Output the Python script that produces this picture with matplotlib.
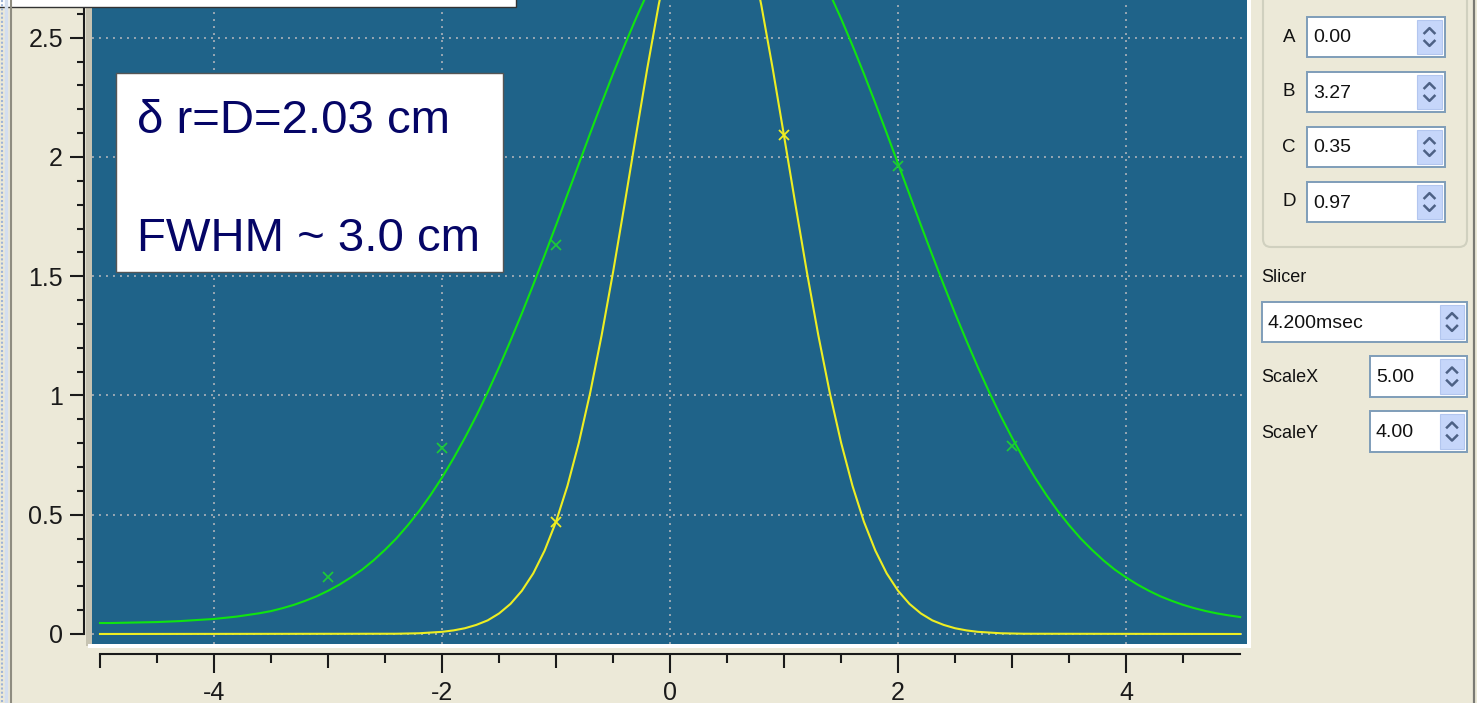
import matplotlib
matplotlib.use('Agg')
import matplotlib.pyplot as plt
from matplotlib.ticker import MultipleLocator, FixedLocator, FuncFormatter
from matplotlib.patches import Rectangle, FancyBboxPatch

plt.rcParams['font.family'] = ['Liberation Sans', 'DejaVu Sans']
plt.rcParams['axes.unicode_minus'] = False

W, H = 1477, 703

# green fitted profile, every 0.1 cm
green_fit_x = [-5.0, -4.9, -4.8, -4.7, -4.6, -4.5, -4.4, -4.3, -4.2, -4.1,
               -4.0, -3.9, -3.8, -3.7, -3.6, -3.5, -3.4, -3.3, -3.2, -3.1,
               -3.0, -2.9, -2.8, -2.7, -2.6, -2.5, -2.4, -2.3, -2.2, -2.1,
               -2.0, -1.9, -1.8, -1.7, -1.6, -1.5, -1.4, -1.3, -1.2, -1.1,
               -1.0, -0.9, -0.8, -0.7, -0.6, -0.5, -0.4, -0.3, -0.2, -0.1,
               0.0, 0.1, 0.2, 0.3, 0.4, 0.5, 0.6, 0.7, 0.8, 0.9,
               1.0, 1.1, 1.2, 1.3, 1.4, 1.5, 1.6, 1.7, 1.8, 1.9,
               2.0, 2.1, 2.2, 2.3, 2.4, 2.5, 2.6, 2.7, 2.8, 2.9,
               3.0, 3.1, 3.2, 3.3, 3.4, 3.5, 3.6, 3.7, 3.8, 3.9,
               4.0, 4.1, 4.2, 4.3, 4.4, 4.5, 4.6, 4.7, 4.8, 4.9, 5.0]
green_fit_y = [0.046, 0.046, 0.047, 0.048, 0.049, 0.050, 0.052, 0.054, 0.057, 0.060,
               0.063, 0.068, 0.073, 0.080, 0.087, 0.096, 0.108, 0.122, 0.139, 0.158,
               0.181, 0.207, 0.237, 0.270, 0.309, 0.353, 0.401, 0.456, 0.516, 0.583,
               0.656, 0.736, 0.822, 0.914, 1.013, 1.118, 1.229, 1.344, 1.464, 1.588,
               1.714, 1.843, 1.971, 2.100, 2.226, 2.349, 2.467, 2.580, 2.686, 2.781,
               2.867, 2.942, 3.005, 3.055, 3.091, 3.113, 3.120, 3.113, 3.091, 3.055,
               3.005, 2.942, 2.867, 2.781, 2.686, 2.580, 2.467, 2.349, 2.226, 2.100,
               1.971, 1.843, 1.714, 1.588, 1.464, 1.344, 1.229, 1.118, 1.013, 0.914,
               0.822, 0.736, 0.656, 0.583, 0.516, 0.456, 0.401, 0.353, 0.309, 0.270,
               0.237, 0.207, 0.181, 0.158, 0.139, 0.122, 0.108, 0.096, 0.086, 0.078, 0.071]

# yellow fitted profile (A=0.00, B=3.27, C=0.35, D=0.97)
yellow_fit_x = [-5.0, -2.4, -2.3, -2.2, -2.1, -2.0, -1.9, -1.8, -1.7, -1.6,
                -1.5, -1.4, -1.3, -1.2, -1.1, -1.0, -0.9, -0.8, -0.7, -0.6,
                -0.5, -0.4, -0.3, -0.2, -0.1, 0.0, 0.1, 0.2, 0.3, 0.4,
                0.5, 0.6, 0.7, 0.8, 0.9, 1.0, 1.1, 1.2, 1.3, 1.4,
                1.5, 1.6, 1.7, 1.8, 1.9, 2.0, 2.1, 2.2, 2.3, 2.4,
                2.5, 2.6, 2.7, 2.8, 2.9, 3.0, 3.1, 5.0]
yellow_fit_y = [0.0, 0.001, 0.002, 0.003, 0.006, 0.009, 0.015, 0.024, 0.038, 0.057,
                0.086, 0.126, 0.181, 0.254, 0.350, 0.471, 0.621, 0.802, 1.013, 1.253,
                1.517, 1.799, 2.087, 2.371, 2.637, 2.871, 3.060, 3.193, 3.261, 3.261,
                3.193, 3.060, 2.871, 2.637, 2.371, 2.087, 1.799, 1.517, 1.253, 1.013,
                0.802, 0.621, 0.471, 0.350, 0.254, 0.181, 0.126, 0.086, 0.057, 0.038,
                0.024, 0.015, 0.009, 0.006, 0.003, 0.002, 0.001, 0.0]

# measured points
green_x = [-3, -2, -1, 2, 3]
green_y = [0.24, 0.78, 1.63, 1.96, 0.79]
yellow_x = [-1, 1]
yellow_y = [0.47, 2.09]

odd_ticks = [-5, -3, -1, 1, 3]
half_ticks = [-4.5, -3.5, -2.5, -1.5, -0.5, 0.5, 1.5, 2.5, 3.5, 4.5]

param_names = ['A', 'B', 'C', 'D']
param_values = ['0.00', '3.27', '0.35', '0.97']
note_lines = ['δ r=D=2.03 cm', 'FWHM ~ 3.0 cm']

BLUE = '#1f6389'
BEIGE = '#ece9d8'
INK = '#1a1a1a'

fig = plt.figure(figsize=(W / 100, H / 100), dpi=100)
fig.patch.set_facecolor(BEIGE)

rect = [92 / W, 1 - 644 / H, (1247 - 92) / W, 644 / H]
xlim = (-5.07, 5.06)
ylim = (-0.042, 2.658)

ax = fig.add_axes(rect)
ax.set_facecolor(BLUE)
ax.set_xlim(*xlim)
ax.set_ylim(*ylim)
ax.set_axisbelow(True)

for s in ['top', 'right']:
    ax.spines[s].set_visible(False)
ax.spines['left'].set_position(('outward', 5.8))
ax.spines['left'].set_bounds(0, ylim[1])
ax.spines['bottom'].set_position(('outward', 7.2))
ax.spines['bottom'].set_bounds(-5, 5)
for s in ['left', 'bottom']:
    ax.spines[s].set_linewidth(1.5)
    ax.spines[s].set_color(INK)

ax.xaxis.set_major_locator(MultipleLocator(2))
ax.xaxis.set_minor_locator(FixedLocator(half_ticks))
ax.yaxis.set_major_locator(MultipleLocator(0.5))
ax.yaxis.set_minor_locator(MultipleLocator(0.1))
ax.yaxis.set_major_formatter(FuncFormatter(lambda v, p: '%g' % v))
ax.xaxis.set_major_formatter(FuncFormatter(lambda v, p: '%g' % v))

ax.tick_params(axis='x', which='major', direction='out', length=13.7, width=1.5,
               pad=6, labelsize=18, colors=INK)
ax.tick_params(axis='x', which='minor', direction='out', length=6.5, width=1.5, colors=INK)
ax.tick_params(axis='y', which='major', direction='out', length=10, width=1.5,
               pad=5, labelsize=18, colors=INK)
ax.tick_params(axis='y', which='minor', direction='out', length=5, width=1.5, colors=INK)

ax.grid(True, which='major', color='#9aa8b4', linestyle=(0, (1, 2.6)), linewidth=1.4)

ax.plot(green_fit_x, green_fit_y, color='#10e410', lw=1.5, zorder=3)
ax.plot(yellow_fit_x, yellow_fit_y, color='#eeee22', lw=1.5, zorder=3)
ax.plot(green_x, green_y, 'x', color='#1cc83a', ms=7, mew=1.3, zorder=4)
ax.plot(yellow_x, yellow_y, 'x', color='#eeee22', ms=7, mew=1.3, zorder=4)

# medium ticks on the odd integers
ax_odd = fig.add_axes(rect)
ax_odd.patch.set_visible(False)
ax_odd.set_xlim(*xlim)
ax_odd.set_ylim(*ylim)
for s in ax_odd.spines.values():
    s.set_visible(False)
ax_odd.spines['bottom'].set_position(('outward', 7.2))
ax_odd.xaxis.set_major_locator(FixedLocator(odd_ticks))
ax_odd.tick_params(axis='x', direction='out', length=10, width=1.5, colors=INK,
                   labelbottom=False)
ax_odd.tick_params(axis='y', left=False, labelleft=False)

# window decoration drawn in pixel space
ov = fig.add_axes([0, 0, 1, 1])
ov.set_xlim(0, W)
ov.set_ylim(H, 0)
ov.axis('off')
ov.patch.set_visible(False)

ov.add_patch(Rectangle((86, 0), 6, 646, fc='#c6c3b2', ec='none'))
ov.add_patch(Rectangle((88, 644), 1162, 4, fc='white', ec='none'))
ov.add_patch(Rectangle((1247, 0), 4, 648, fc='white', ec='none'))

ov.plot([1.5, 1.5], [0, H], color='#9fb4d6', lw=1.5, ls=(0, (1, 1)))
ov.plot([6, 6], [0, H], color='#d3deef', lw=2.5)
ov.plot([11, 11], [0, H], color='#8e8c80', lw=1.5)
ov.plot([1474, 1474], [0, H], color='#7a7a74', lw=1.6)

ov.add_patch(Rectangle((-2, -10), 518, 16.5, fc='white', ec='#333333', lw=1))

# note box
ov.add_patch(Rectangle((116, 73), 387, 199, fc='white', ec='#555555', lw=1, zorder=5))
ov.text(137, 133, note_lines[0], fontsize=34, color='#050566', va='baseline', zorder=6)
ov.text(137, 251, note_lines[1], fontsize=34, color='#050566', va='baseline', zorder=6)


def spin(x0, y0, x1, y1, text, bx0, bx1):
    ov.add_patch(Rectangle((x0, y0), x1 - x0, y1 - y0, fc='white', ec='#7f9db9', lw=1.4))
    ov.add_patch(Rectangle((bx0, y0 + 3), bx1 - bx0, y1 - y0 - 6,
                           fc='#c6d6fa', ec='#b3c6ef', lw=0.8))
    cx = (bx0 + bx1) / 2
    cu = y0 + (y1 - y0) * 0.34
    cd = y0 + (y1 - y0) * 0.66
    ov.plot([cx - 5, cx, cx + 5], [cu + 2.5, cu - 2.5, cu + 2.5], color='#4d6185', lw=1.8)
    ov.plot([cx - 5, cx, cx + 5], [cd - 2.5, cd + 2.5, cd - 2.5], color='#4d6185', lw=1.8)
    ov.text(x0 + 6, (y0 + y1) / 2 + 1, text, fontsize=14, color='#111111', va='center')


ov.add_patch(FancyBboxPatch((1263, -20), 204, 267,
                            boxstyle='round,pad=0,rounding_size=8',
                            fc='none', ec='#d0d0bf', lw=1.5))

for i, (name, val) in enumerate(zip(param_names, param_values)):
    y0 = 17 + 55 * i
    ov.text(1289, y0 + 20, name, fontsize=13.5, color='#111111', ha='center', va='center')
    spin(1307, y0, 1445, y0 + 40, val, 1417, 1442)

ov.text(1261, 277, 'Slicer', fontsize=13, color='#111111', va='center')
spin(1262, 302, 1467, 342, '4.200msec', 1440, 1464)
ov.text(1261, 378, 'ScaleX', fontsize=13, color='#111111', va='center')
spin(1370, 356, 1467, 397, '5.00', 1440, 1464)
ov.text(1261, 433, 'ScaleY', fontsize=13, color='#111111', va='center')
spin(1370, 411, 1467, 452, '4.00', 1440, 1464)

fig.savefig('out.png', dpi=100, facecolor=fig.get_facecolor())
